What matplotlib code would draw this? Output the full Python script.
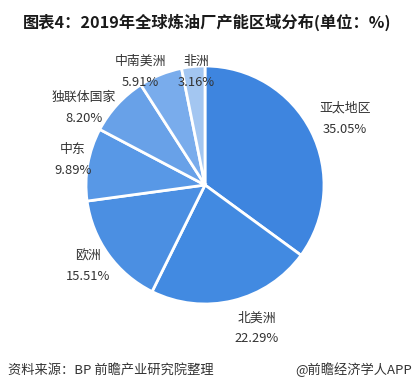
import matplotlib.pyplot as plt

plt.rcParams['font.family'] = ['Noto Sans CJK SC', 'DejaVu Sans']

# data
regions = ["亚太地区", "北美洲", "欧洲", "中东", "独联体国家", "中南美洲", "非洲"]
shares = [35.05, 22.29, 15.51, 9.89, 8.20, 5.91, 3.16]
colors = ["#3e85df", "#428ae1", "#4b8fe2", "#5898e6", "#68a1e8", "#79acec", "#a3c6f1"]

# label positions in pixels (x, y from top) - layout only
label_px = [(345, 108), (257, 318), (88, 256), (73, 149), (84, 97), (140, 61), (196, 61)]

W, H = 416, 386
fig = plt.figure(figsize=(W / 100, H / 100), dpi=100)
fig.patch.set_facecolor("white")

cx, cy, r = 205, 185, 119
ax = fig.add_axes([(cx - r) / W, 1 - (cy + r) / H, 2 * r / W, 2 * r / H])
ax.pie(shares, colors=colors, startangle=90, counterclock=False,
       radius=1.0, wedgeprops=dict(edgecolor="white", linewidth=2))
ax.set_xlim(-1, 1)
ax.set_ylim(-1, 1)
ax.set_aspect("equal")
ax.axis("off")

for name, val, (px, py) in zip(regions, shares, label_px):
    fig.text(px / W, 1 - py / H, name, ha="center", va="center",
             fontsize=9.3, color="#333333")
    fig.text(px / W, 1 - (py + 21) / H, f"{val:.2f}%", ha="center",
             va="center", fontsize=9.3, color="#333333")

fig.text(23 / W, 1 - 22 / H, "图表4：2019年全球炼油厂产能区域分布(单位：%)",
         ha="left", va="center", fontsize=11.7, fontweight="bold",
         color="#1a1a1a")
fig.text(8 / W, 1 - 370 / H, "资料来源：BP 前瞻产业研究院整理", ha="left",
         va="center", fontsize=9.5, color="#333333")
fig.text(412 / W, 1 - 370 / H, "@前瞻经济学人APP", ha="right",
         va="center", fontsize=9.5, color="#333333")

fig.savefig("out.png", dpi=100)
